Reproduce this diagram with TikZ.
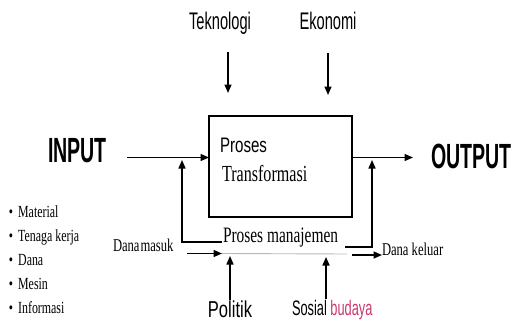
\documentclass[tikz,border=0pt]{standalone}
\usepackage{fontspec}
\usetikzlibrary{arrows.meta}
% narrow faces used throughout the drawing
\newfontfamily\labelsans[FakeStretch=0.61]{Liberation Sans}
\newfontfamily\textsans[FakeStretch=0.72]{Liberation Sans}
\newfontfamily\headsans[FakeStretch=0.56]{Liberation Sans}
\newfontfamily\bodyserif[FakeStretch=0.7]{Liberation Serif}
\definecolor{budayapink}{HTML}{C8386E}
\begin{document}
\begin{tikzpicture}[x=1pt,y=-1pt,
  arr/.style={-{Triangle[length=8.5pt,width=7pt]}, line width=1.5pt},
  lbl/.style={inner sep=0pt, outer sep=0pt, anchor=base},
  topfont/.style={font=\labelsans\fontsize{24}{24}\selectfont},
  headfont/.style={font=\headsans\bfseries\fontsize{35}{35}\selectfont},
  serif22/.style={font=\bodyserif\fontsize{22}{22}\selectfont},
  serif18/.style={font=\bodyserif\fontsize{18}{18}\selectfont},
  listfont/.style={font=\bodyserif\fontsize{17}{17}\selectfont},
  boxframe/.style={draw, line width=1.5pt, inner sep=0pt, outer sep=0pt,
    minimum width=143pt, minimum height=101pt, anchor=north west}]
\useasboundingbox (0,0) rectangle (513,321);

% environment labels above the process
\node[lbl, topfont] (tek) at (220,30) {Teknologi};
\node[lbl, topfont] (eko) at (328,30) {Ekonomi};
\coordinate (tekS) at (228,52);  \coordinate (tekE) at (228,93);
\coordinate (ekoS) at (328,53);  \coordinate (ekoE) at (328,95);
\draw[arr] (tekS) -- (tekE);
\draw[arr] (ekoS) -- (ekoE);

% transformation box
\node[boxframe] (trans) at (209,116) {};
\node[lbl, anchor=base west, font=\textsans\fontsize{21}{21}\selectfont] (proses) at (220,152) {Proses};
\node[lbl, anchor=base west, font=\bodyserif\fontsize{23}{23}\selectfont] (transtxt) at (222,181) {Transformasi};

% input and output
\node[lbl, headfont] (input) at (77.5,162) {INPUT};
\node[lbl, headfont] (output) at (471.5,168) {OUTPUT};
\coordinate (inS) at (127,157.5);
\coordinate (outE) at (413,157.5);
\draw[arr] (inS) -- (inS -| trans.west);
\draw[arr] (outE -| trans.east) -- (outE);

% management process and its feedback
\node[lbl, anchor=base west, serif22] (pm) at (223,242) {Proses manajemen};
\coordinate (pmL) at (222,242);  \coordinate (fbLtip) at (182,160);
\coordinate (pmR) at (345,247);  \coordinate (fbRtip) at (372,160);
\draw[arr] (pmL) -| (fbLtip);
\draw[arr] (pmR) -| (fbRtip);

% funds in and out
\node[lbl, anchor=base west, serif18] (masuk) at (113,251) {Dana\hspace{1pt}masuk};
\node[lbl, anchor=base west, serif18] (keluar) at (382,255.5) {Dana keluar};
\coordinate (inF) at (187,253.5);  \coordinate (inFE) at (222,253.5);
\coordinate (gE) at (347,254);
\coordinate (outF) at (352,255);
\draw[arr] (inF) -- (inFE);
\draw[gray!55, line width=0.9pt] (inFE) -- (gE);
\draw[arr] (outF) -- (keluar.west |- outF);

% environment labels below the process
\node[lbl, font=\textsans\fontsize{23}{23}\selectfont] (pol) at (230,317) {Politik};
\node[lbl, anchor=base west, font=\labelsans\fontsize{21}{21}\selectfont] (sos) at (292,315) {Sosial \textcolor{budayapink}{budaya}};
\coordinate (polS) at (230,300);  \coordinate (polE) at (230,256);
\coordinate (sosS) at (326,299);  \coordinate (sosE) at (326,257);
\draw[arr] (polS) -- (polE);
\draw[arr] (sosS) -- (sosE);

% list of inputs
\foreach \txt/\yy [count=\i] in {Material/217, Tenaga kerja/241, Dana/265, Mesin/289, Informasi/313}
  \node[lbl, anchor=base west, listfont] (item\i) at (9,\yy) {\textbullet\hspace{5pt}\txt};
\end{tikzpicture}
\end{document}
